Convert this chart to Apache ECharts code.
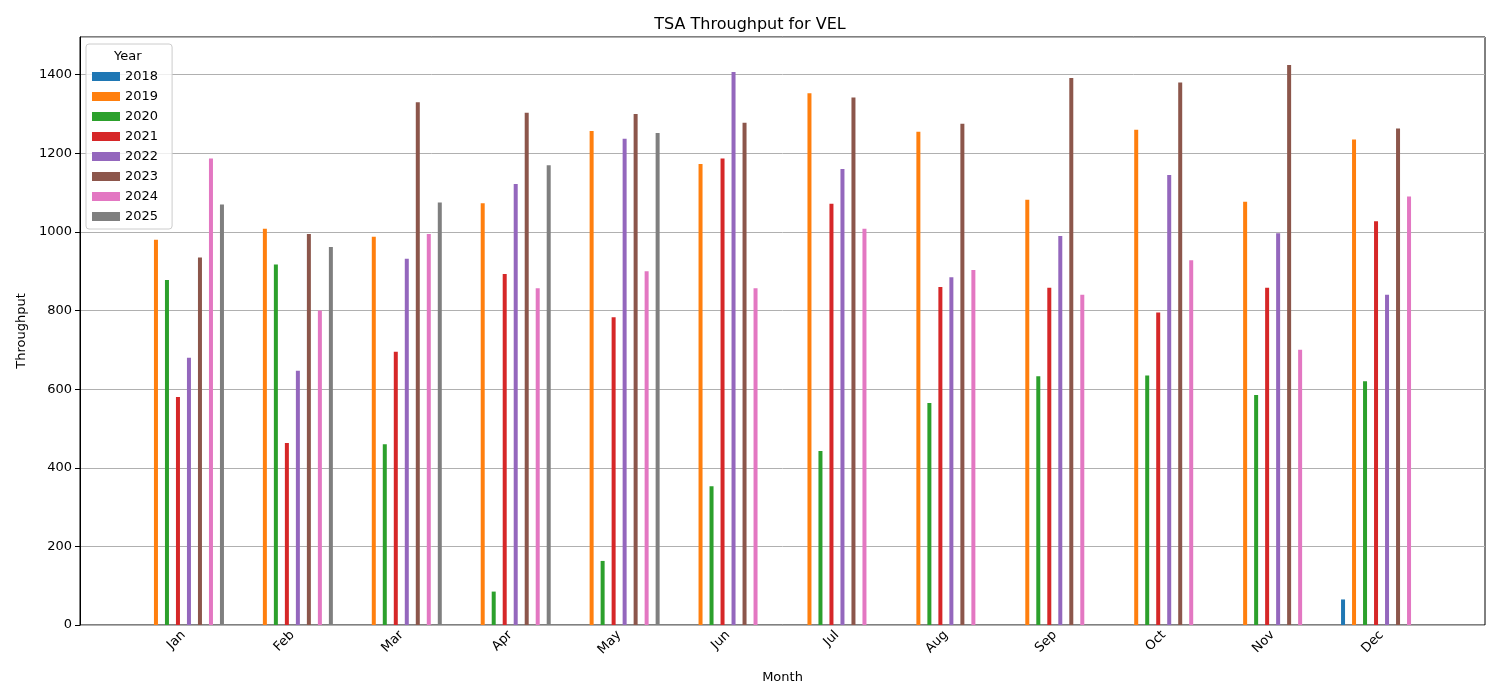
<!DOCTYPE html>
<html>
<head>
<meta charset="utf-8">
<script src="https://cdn.jsdelivr.net/npm/echarts@6/dist/echarts.min.js"></script>
<style>html,body{margin:0;padding:0;background:#fff}#chart{width:1500px;height:700px}</style>
</head>
<body>
<div id="chart"></div>
<script>
var months = ['Jan', 'Feb', 'Mar', 'Apr', 'May', 'Jun', 'Jul', 'Aug', 'Sep', 'Oct', 'Nov', 'Dec']
var years = ['2018', '2019', '2020', '2021', '2022', '2023', '2024', '2025']
var colors = ['#1f77b4', '#ff7f0e', '#2ca02c', '#d62728', '#9467bd', '#8c564b', '#e377c2', '#7f7f7f']

var v2018 = [null, null, null, null, null, null, null, null, null, null, null, 65]
var v2019 = [980, 1008, 988, 1073, 1257, 1173, 1353, 1255, 1082, 1260, 1077, 1235]
var v2020 = [878, 917, 460, 85, 163, 353, 443, 565, 633, 635, 585, 620]
var v2021 = [580, 463, 695, 893, 783, 1187, 1072, 860, 858, 795, 858, 1027]
var v2022 = [680, 647, 932, 1122, 1237, 1407, 1160, 885, 990, 1145, 997, 840]
var v2023 = [935, 995, 1330, 1303, 1300, 1278, 1342, 1275, 1392, 1380, 1425, 1263]
var v2024 = [1187, 800, 995, 857, 900, 857, 1008, 903, 840, 928, 700, 1090]
var v2025 = [1070, 962, 1075, 1170, 1252, null, null, null, null, null, null, null]
var values = [v2018, v2019, v2020, v2021, v2022, v2023, v2024, v2025]

var font = 'DejaVu Sans'
var series = years.map(function (y, i) {
  return {
    name: y,
    type: 'bar',
    xAxisIndex: 1,
    yAxisIndex: 1,
    data: values[i],
    barWidth: 4,
    barGap: '175%',
    itemStyle: { color: colors[i] }
  }
})

var myChart = echarts.init(document.getElementById('chart'))
var option = {
  animation: false,
  textStyle: { fontFamily: font },
  color: colors,
  title: {
    text: 'TSA Throughput for VEL',
    left: 'center',
    top: 12,
    textStyle: { fontFamily: font, fontSize: 16, fontWeight: 'normal', color: '#000' }
  },
  legend: {
    orient: 'vertical',
    left: 86,
    top: 44,
    data: years,
    icon: 'rect',
    itemWidth: 28,
    itemHeight: 9,
    itemGap: 7,
    padding: [26, 14, 6, 6],
    borderColor: '#ccc',
    borderWidth: 1,
    borderRadius: 3,
    backgroundColor: 'rgba(255,255,255,0.8)',
    textStyle: { fontFamily: font, fontSize: 13, color: '#000' }
  },
  graphic: [{
    type: 'text',
    left: 114,
    top: 50,
    z: 100,
    style: { text: 'Year', font: '13px "DejaVu Sans"', fill: '#000' }
  }],
  grid: [
    { left: 80, right: 15, top: 37, bottom: 75, show: true, borderColor: '#000', borderWidth: 1, backgroundColor: 'transparent' },
    { left: 129, right: 64, top: 37, bottom: 75 }
  ],
  xAxis: [
    { type: 'value', gridIndex: 0, min: 0, max: 1, show: false },
    {
      type: 'category',
      gridIndex: 1,
      data: months,
      name: 'Month',
      nameLocation: 'middle',
      nameGap: 46,
      nameTextStyle: { fontFamily: font, fontSize: 13, color: '#000' },
      axisLine: { show: false },
      axisTick: { alignWithLabel: true, length: 5, lineStyle: { color: '#000' } },
      axisLabel: { rotate: 45, color: '#000', fontSize: 13, margin: 8 }
    }
  ],
  yAxis: [
    {
      type: 'value',
      gridIndex: 0,
      min: 0,
      max: 1496,
      interval: 200,
      name: 'Throughput',
      nameLocation: 'middle',
      nameGap: 50,
      nameTextStyle: { fontFamily: font, fontSize: 13, color: '#000' },
      axisLine: { show: true, lineStyle: { color: '#000' } },
      axisTick: { show: true, length: 5, lineStyle: { color: '#000' } },
      axisLabel: { color: '#000', fontSize: 13, showMaxLabel: false, formatter: function (v) { return String(v) } },
      splitLine: { show: true, lineStyle: { color: '#b0b0b0', width: 1 } }
    },
    { type: 'value', gridIndex: 1, min: 0, max: 1496, show: false, splitLine: { show: false } }
  ],
  series: series
}
myChart.setOption(option)
</script>
</body>
</html>
